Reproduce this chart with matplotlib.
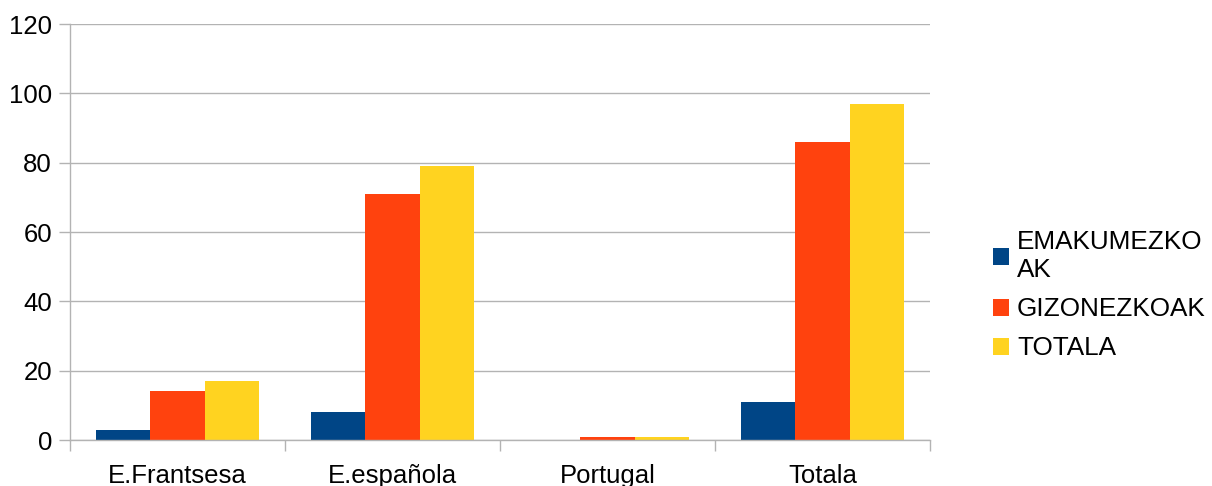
import matplotlib
matplotlib.use("Agg")
import matplotlib.pyplot as plt
import numpy as np
from matplotlib.patches import Patch

categories = ["E.Frantsesa", "E.española", "Portugal", "Totala"]
series_names = ["EMAKUMEZKO\nAK", "GIZONEZKOAK", "TOTALA"]
emakumezkoak = [3, 8, 0, 11]
gizonezkoak = [14, 71, 1, 86]
totala = [17, 79, 1, 97]
colors = ["#004586", "#FF420E", "#FFD320"]
yticks = [0, 20, 40, 60, 80, 100, 120]

plt.rcParams['font.family'] = ['Liberation Sans', 'DejaVu Sans']

W, H = 1212, 486
fig = plt.figure(figsize=(W / 100, H / 100), dpi=100)
ax = fig.add_axes([70 / W, 1 - 440 / H, 860 / W, 416 / H])

x = np.arange(len(categories))
bw = 0.252
handles = []
for i, (vals, c, name) in enumerate(zip([emakumezkoak, gizonezkoak, totala], colors, series_names)):
    ax.bar(x + (i - 1) * bw, vals, width=bw, color=c, zorder=3, linewidth=0)
    handles.append(Patch(facecolor=c, edgecolor='none', label=name))

ax.set_xlim(-0.5, len(categories) - 0.5)
ax.set_ylim(0, 120)
ax.set_yticks(yticks)
ax.set_xticks(x)
ax.set_xticklabels(categories)
ax.set_xticks(np.arange(len(categories) + 1) - 0.5, minor=True)

grid_c = "#b3b3b3"
ax.grid(axis='y', color=grid_c, linewidth=1, zorder=0)
for s in ['top', 'right']:
    ax.spines[s].set_visible(False)
for s in ['left', 'bottom']:
    ax.spines[s].set_color(grid_c)
    ax.spines[s].set_linewidth(1)
    ax.spines[s].set_zorder(4)

fs = 18.5
ax.tick_params(axis='y', length=8, width=1, color=grid_c, pad=5, labelsize=fs)
ax.tick_params(axis='x', which='major', length=0, pad=17, labelsize=fs)
ax.tick_params(axis='x', which='minor', length=8, width=1, color=grid_c)

leg = fig.legend(handles=handles, loc='upper left', bbox_to_anchor=(993 / W, 1 - 230 / H),
                 frameon=False, fontsize=18.8, handlelength=0.62, handleheight=0.62,
                 handletextpad=0.3, labelspacing=0.58, borderaxespad=0, borderpad=0)
for t in leg.get_texts():
    t.set_linespacing(1.22)

fig.savefig("out.png", dpi=100)
